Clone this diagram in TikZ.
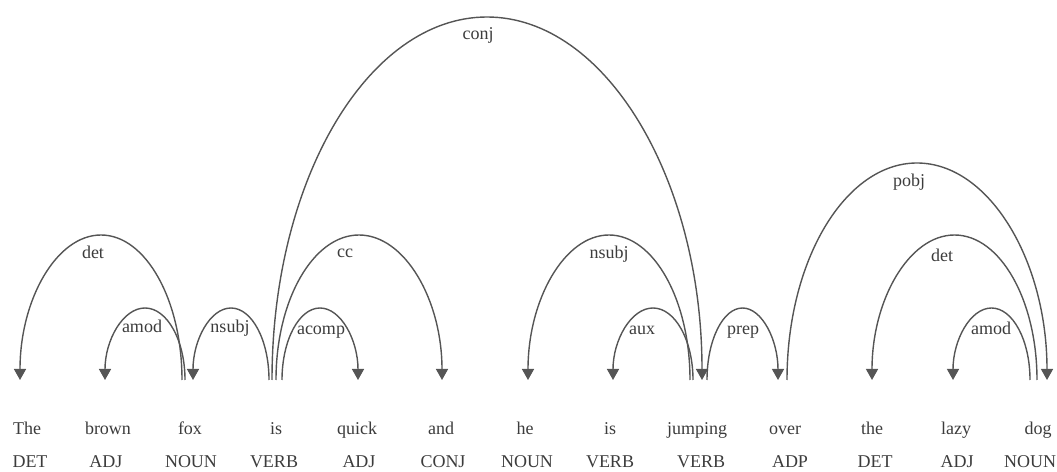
\documentclass[tikz,border=0pt]{standalone}
\usepackage{fontspec}
\setmainfont{Liberation Serif}
\usetikzlibrary{arrows.meta}
\definecolor{arcgray}{HTML}{555555}
\definecolor{txtgray}{HTML}{3C3C3C}
\begin{document}
\begin{tikzpicture}[x=1pt,y=1pt,
  dep/.style={draw=arcgray, line width=1.4pt},
  deparrow/.style={dep, -{Triangle[width=12pt,length=11pt]}},
  word/.style={text=txtgray, font=\fontsize{18}{21}\selectfont, inner sep=0pt, anchor=base},
  lab/.style={text=txtgray, font=\fontsize{18}{21}\selectfont, inner sep=0pt, anchor=base}]
\useasboundingbox (0,0) rectangle (1057,471);
% words
\node[word] (w1)  at (27,36)   {The};
\node[word] (w2)  at (108,36)  {brown};
\node[word] (w3)  at (190,36)  {fox};
\node[word] (w4)  at (276,36)  {is};
\node[word] (w5)  at (357,36)  {quick};
\node[word] (w6)  at (441,36)  {and};
\node[word] (w7)  at (525,36)  {he};
\node[word] (w8)  at (610,36)  {is};
\node[word] (w9)  at (697,36)  {jumping};
\node[word] (w10) at (785,36)  {over};
\node[word] (w11) at (872,36)  {the};
\node[word] (w12) at (956,36)  {lazy};
\node[word] (w13) at (1038,36) {dog};
% tags
\node[word] (p1)  at (30,3)   {DET};
\node[word] (p2)  at (106,3)  {ADJ};
\node[word] (p3)  at (191,3)  {NOUN};
\node[word] (p4)  at (274,3)  {VERB};
\node[word] (p5)  at (359,3)  {ADJ};
\node[word] (p6)  at (443,3)  {CONJ};
\node[word] (p7)  at (527,3)  {NOUN};
\node[word] (p8)  at (610,3)  {VERB};
\node[word] (p9)  at (701,3)  {VERB};
\node[word] (p10) at (790,3)  {ADP};
\node[word] (p11) at (875,3)  {DET};
\node[word] (p12) at (957,3)  {ADJ};
\node[word] (p13) at (1030,3) {NOUN};
% arc start points (heads)
\coordinate (h1)  at (182,91);
\coordinate (h2)  at (185,91);
\coordinate (h3)  at (269,91);
\coordinate (h4)  at (272,91);
\coordinate (h5)  at (276,91);
\coordinate (h6)  at (282,91);
\coordinate (h7)  at (690,91);
\coordinate (h8)  at (693,91);
\coordinate (h9)  at (707,91);
\coordinate (h10) at (787,91);
\coordinate (h11) at (1037,91);
\coordinate (h12) at (1030,91);
% arcs
\draw[deparrow] (h1)  arc[start angle=0,   end angle=180, x radius=81,   y radius=145];
\draw[deparrow] (h2)  arc[start angle=0,   end angle=180, x radius=40,   y radius=72];
\draw[deparrow] (h3)  arc[start angle=0,   end angle=180, x radius=38,   y radius=72];
\draw[deparrow] (h4)  arc[start angle=180, end angle=0,   x radius=215,  y radius=363];
\draw[deparrow] (h5)  arc[start angle=180, end angle=0,   x radius=83,   y radius=145];
\draw[deparrow] (h6)  arc[start angle=180, end angle=0,   x radius=38,   y radius=72];
\draw[deparrow] (h7)  arc[start angle=0,   end angle=180, x radius=81,   y radius=145];
\draw[deparrow] (h8)  arc[start angle=0,   end angle=180, x radius=40,   y radius=72];
\draw[deparrow] (h9)  arc[start angle=180, end angle=0,   x radius=35.5, y radius=72];
\draw[deparrow] (h10) arc[start angle=180, end angle=0,   x radius=130,  y radius=217];
\draw[deparrow] (h11) arc[start angle=0,   end angle=180, x radius=82.5, y radius=145];
\draw[deparrow] (h12) arc[start angle=0,   end angle=180, x radius=38.5, y radius=72];
% labels
\node[lab] (l1)  at (93,212)  {det};
\node[lab] (l2)  at (142,138) {amod};
\node[lab] (l3)  at (230,138) {nsubj};
\node[lab] (l4)  at (478,431) {conj};
\node[lab] (l5)  at (345,213) {cc};
\node[lab] (l6)  at (321,136) {acomp};
\node[lab] (l7)  at (609,212) {nsubj};
\node[lab] (l8)  at (642,136) {aux};
\node[lab] (l9)  at (743,136) {prep};
\node[lab] (l10) at (909,284) {pobj};
\node[lab] (l11) at (942,209) {det};
\node[lab] (l12) at (991,136) {amod};
\end{tikzpicture}
\end{document}
